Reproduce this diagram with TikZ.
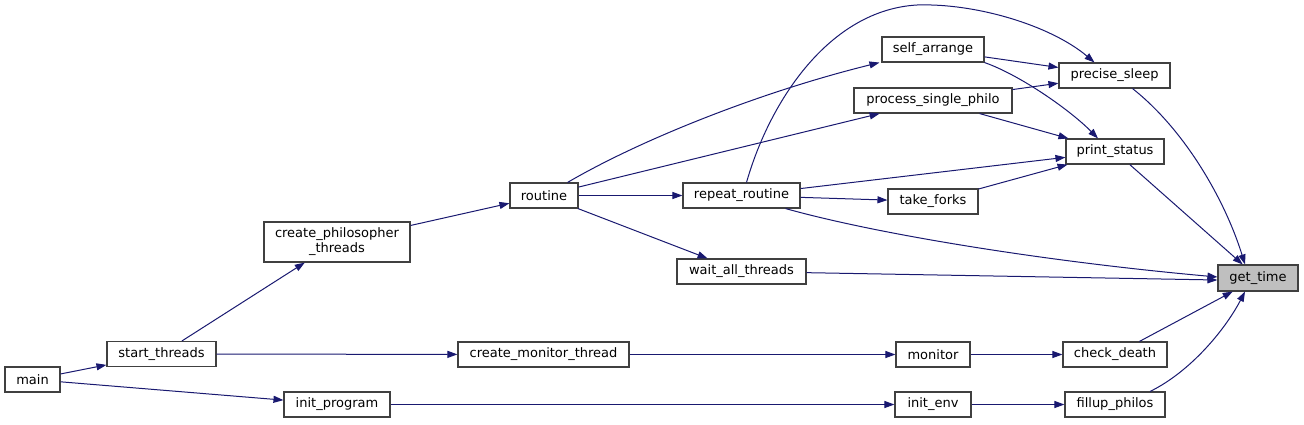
\documentclass[tikz,border=0pt]{standalone}
\usepackage{fontspec}
\setmainfont{DejaVu Sans}
\usepackage{xcolor}
\usetikzlibrary{arrows.meta}

\definecolor{edgeblue}{HTML}{191970}
\definecolor{boxline}{HTML}{404040}

\begin{document}
\begin{tikzpicture}[x=1pt, y=-1pt,
  fn/.style={draw=boxline, line width=1.1pt, inner sep=0pt, minimum height=25pt, align=center,
    font=\fontsize{13}{15}\selectfont},
  call/.style={-{Triangle[length=10pt,width=7pt]}, draw=edgeblue, line width=1pt}]
\useasboundingbox (0,0) rectangle (1304,424);

% callers, left to right
\node[fn, minimum width=55pt]  (main)   at (32.5,379.5) {main};
\node[fn, minimum width=109pt] (startth) at (161.5,354) {start\_threads};
\node[fn, minimum width=146pt, minimum height=40pt] (createph) at (337,242) {create\_philosopher\\\_threads};
\node[fn, minimum width=106pt] (initprog) at (337,404.5) {init\_program};
\node[fn, minimum width=68pt]  (routine) at (544,195.5) {routine};
\node[fn, minimum width=171pt] (createmon) at (543.5,354.5) {create\_monitor\_thread};
\node[fn, minimum width=117pt] (repeat) at (741.5,195.5) {repeat\_routine};
\node[fn, minimum width=129pt] (waitall) at (741.5,271.5) {wait\_all\_threads};
\node[fn, minimum width=102pt] (selfarr) at (933,49.5) {self\_arrange};
\node[fn, minimum width=158pt] (single) at (933,100.5) {process\_single\_philo};
\node[fn, minimum width=90pt]  (forks)  at (933,201.5) {take\_forks};
\node[fn, minimum width=74pt]  (monitor) at (933,354.5) {monitor};
\node[fn, minimum width=76pt]  (initenv) at (933,404.5) {init\_env};
\node[fn, minimum width=111pt] (sleep)  at (1114.5,75.5) {precise\_sleep};
\node[fn, minimum width=98pt]  (status) at (1115,151.5) {print\_status};
\node[fn, minimum width=104pt] (death)  at (1115,354.5) {check\_death};
\node[fn, minimum width=100pt] (fillup) at (1115,404.5) {fillup\_philos};
\node[fn, minimum width=80pt, minimum height=26pt, fill=gray!50] (gettime) at (1258,278) {get\_time};

% calls
\draw[call] (main) -- (startth);
\draw[call] (main) -- (initprog);
\draw[call] (startth) -- (createph);
\draw[call] (startth) -- (createmon);
\draw[call] (createph) -- (routine);
\draw[call] (initprog) -- (initenv);
\draw[call] (routine) -- (repeat);
\draw[call] (routine) -- (single);
\draw[call] (routine) -- (waitall);
\draw[call] ([xshift=-11pt]routine.north east) .. controls (640,140) and (760,92) .. ([xshift=-2pt]selfarr.south west);
\draw[call] (createmon) -- (monitor);
\draw[call] (repeat) -- (forks);
\draw[call] (repeat) -- (status);
\draw[call] ([xshift=5pt]repeat.north) .. controls (770,100) and (830,10) .. (917,5)
  .. controls (975,3) and (1050,25) .. ([xshift=-20pt]sleep.north);
\draw[call] ([xshift=-15pt]repeat.south east) .. controls (880,235) and (1050,262) .. ([yshift=1pt]gettime.west);
\draw[call] (waitall) -- ([yshift=-2pt]gettime.west);
\draw[call] (selfarr) -- (sleep);
\draw[call] (selfarr.south east) .. controls (1020,75) and (1070,110) .. ([xshift=-17pt]status.north);
\draw[call] (single) -- (sleep);
\draw[call] (single) -- (status);
\draw[call] (forks) -- (status);
\draw[call] (monitor) -- (death);
\draw[call] (initenv) -- (fillup);
\draw[call] ([xshift=18pt]sleep.south) .. controls (1185,130) and (1225,200) .. ([xshift=-13pt]gettime.north);
\draw[call] (status) -- (gettime);
\draw[call] (death) -- (gettime);
\draw[call] ([xshift=35pt]fillup.north) .. controls (1190,372) and (1225,330) .. ([xshift=-13pt]gettime.south);
\end{tikzpicture}
\end{document}
